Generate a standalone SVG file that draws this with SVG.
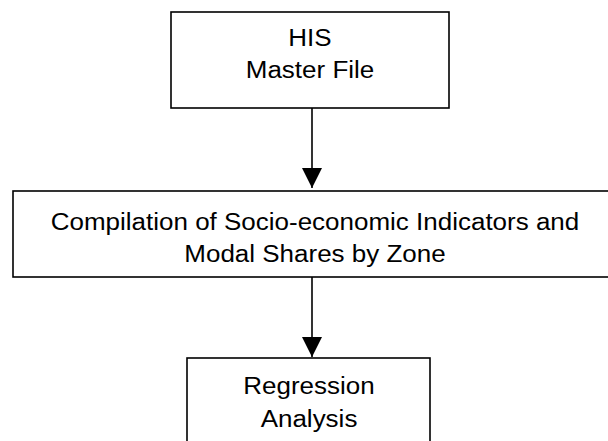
<svg xmlns="http://www.w3.org/2000/svg" width="608" height="441" viewBox="0 0 608 441">
  <style>
    .box { fill: #ffffff; stroke: #000000; stroke-width: 1.6; }
    .lbl { font-family: "Liberation Sans", Arial, sans-serif; font-size: 23px; fill: #000000; text-anchor: middle; }
    .link { stroke: #000000; stroke-width: 1.6; fill: none; }
  </style>
  <defs>
    <marker id="arrow" markerUnits="userSpaceOnUse" markerWidth="20" markerHeight="20" refX="20" refY="10" orient="auto">
      <path d="M0,0 L20,10 L0,20 Z" fill="#000000"/>
    </marker>
  </defs>
  <rect width="608" height="441" fill="#ffffff"/>

  <g id="connectors">
    <line class="link" x1="312" y1="108" x2="312" y2="188" marker-end="url(#arrow)"/>
    <line class="link" x1="312" y1="277" x2="312" y2="357" marker-end="url(#arrow)"/>
  </g>

  <g id="his-master-file">
    <rect class="box" x="171" y="12" width="278" height="96"/>
    <text class="lbl" transform="translate(310,46) scale(1.13,1)">HIS</text>
    <text class="lbl" transform="translate(310,78) scale(1.13,1)">Master File</text>
  </g>

  <g id="compilation">
    <rect class="box" x="13" y="191" width="610" height="86"/>
    <text class="lbl" transform="translate(315,230) scale(1.13,1)">Compilation of Socio-economic Indicators and</text>
    <text class="lbl" transform="translate(315,262) scale(1.13,1)">Modal Shares by Zone</text>
  </g>

  <g id="regression-analysis">
    <rect class="box" x="187" y="358" width="243" height="100"/>
    <text class="lbl" transform="translate(309,394) scale(1.13,1)">Regression</text>
    <text class="lbl" transform="translate(309,427) scale(1.13,1)">Analysis</text>
  </g>
</svg>
